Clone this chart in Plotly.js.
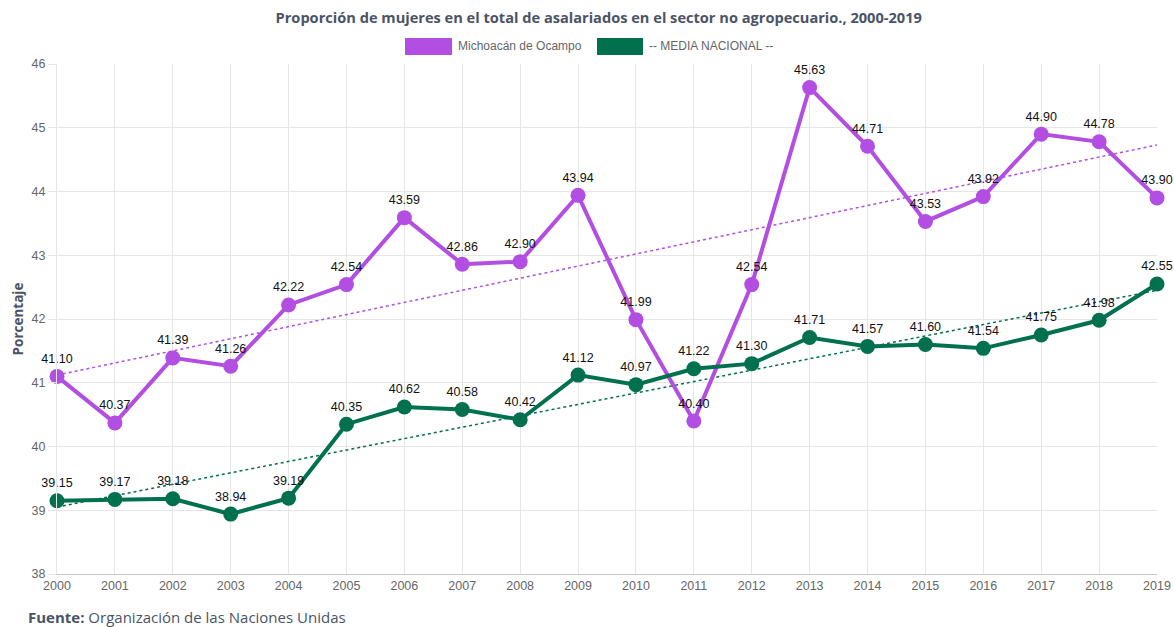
<!DOCTYPE html>
<html>
<head>
<meta charset="utf-8">
<script src="https://cdn.plot.ly/plotly-3.0.1.min.js"></script>
<style>html,body{margin:0;padding:0;background:#fff;}#chart{width:1174px;height:627px;}</style>
</head>
<body>
<div id="chart"></div>
<script>
const years = [2000,2001,2002,2003,2004,2005,2006,2007,2008,2009,2010,2011,2012,2013,2014,2015,2016,2017,2018,2019];
const michoacan = [41.10,40.37,41.39,41.26,42.22,42.54,43.59,42.86,42.90,43.94,41.99,40.40,42.54,45.63,44.71,43.53,43.92,44.90,44.78,43.90];
const nacional = [39.15,39.17,39.18,38.94,39.19,40.35,40.62,40.58,40.42,41.12,40.97,41.22,41.30,41.71,41.57,41.60,41.54,41.75,41.98,42.55];
const trendYears = [2000, 2019];
const michoacanTrend = [41.12, 44.73];
const nacionalTrend = [39.05, 42.45];
const names = ['Michoacán de Ocampo', '-- MEDIA NACIONAL --'];
const purple = '#b24fe2';
const green = '#00704f';
const labelFont = {family: 'Liberation Sans, Arial', size: 12.5, color: '#111'};

const data = [
  {x: trendYears, y: michoacanTrend, mode: 'lines', line: {color: purple, width: 1.5, dash: 'dot'}, hoverinfo: 'skip', showlegend: false},
  {x: trendYears, y: nacionalTrend, mode: 'lines', line: {color: green, width: 1.5, dash: 'dot'}, hoverinfo: 'skip', showlegend: false},
  {x: years, y: michoacan, name: names[0], mode: 'lines+markers+text', text: michoacan.map(v => v.toFixed(2)),
   textposition: 'top center', textfont: labelFont,
   line: {color: purple, width: 4}, marker: {color: purple, size: 15}, cliponaxis: false, showlegend: false},
  {x: years, y: nacional, name: names[1], mode: 'lines+markers+text', text: nacional.map(v => v.toFixed(2)),
   textposition: 'top center', textfont: labelFont,
   line: {color: green, width: 4}, marker: {color: green, size: 15}, cliponaxis: false, showlegend: false}
];

const layout = {
  width: 1174, height: 627,
  margin: {l: 57, r: 17, t: 64, b: 53},
  paper_bgcolor: '#fff', plot_bgcolor: '#fff',
  title: {text: 'Proporción de mujeres en el total de asalariados en el sector no agropecuario., 2000-2019',
    font: {family: 'Open Sans, Noto Sans, sans-serif', size: 14.6, color: '#4a5466', weight: 700},
    x: 0.51, xanchor: 'center', y: 0.972, yanchor: 'middle'},
  xaxis: {range: [2000, 2019], tickvals: years, ticktext: years.map(String), showgrid: true, gridcolor: '#e6e6e6',
    showline: true, linecolor: '#c8c8c8', zeroline: false, ticks: '', ticklen: 0,
    tickfont: {family: 'Liberation Sans, Arial', size: 12.5, color: '#666'}, fixedrange: true},
  yaxis: {range: [38, 46], dtick: 1, showgrid: true, gridcolor: '#e6e6e6', zeroline: false,
    showline: true, linecolor: '#e6e6e6', ticks: 'outside', ticklen: 8, tickcolor: '#e6e6e6',
    tickfont: {family: 'Liberation Sans, Arial', size: 12.5, color: '#666'},
    title: {text: 'Porcentaje', font: {family: 'Open Sans, Noto Sans, sans-serif', size: 13.5, color: '#4a5466', weight: 700}, standoff: 4}},
  showlegend: false,
  shapes: [
    {type: 'rect', xref: 'paper', yref: 'paper', x0: (405-57)/1100, x1: (452-57)/1100, y0: (574-55)/510, y1: (574-38)/510, fillcolor: purple, line: {width: 0}},
    {type: 'rect', xref: 'paper', yref: 'paper', x0: (597-57)/1100, x1: (643-57)/1100, y0: (574-55)/510, y1: (574-38)/510, fillcolor: green, line: {width: 0}}
  ],
  annotations: [
    {xref: 'paper', yref: 'paper', x: (456-57)/1100, y: (574-46.5)/510, xanchor: 'left', yanchor: 'middle', showarrow: false,
     text: names[0], font: {family: 'Liberation Sans, Arial', size: 12, color: '#666'}},
    {xref: 'paper', yref: 'paper', x: (647-57)/1100, y: (574-46.5)/510, xanchor: 'left', yanchor: 'middle', showarrow: false,
     text: names[1], font: {family: 'Liberation Sans, Arial', size: 12, color: '#666'}},
    {xref: 'paper', yref: 'paper', x: (26-57)/1100, y: (574-617)/510, xanchor: 'left', yanchor: 'middle', showarrow: false,
     text: '<b>Fuente:</b> Organización de las Naciones Unidas', font: {family: 'Open Sans, Noto Sans, sans-serif', size: 15, color: '#4a5466'}}
  ]
};

Plotly.newPlot('chart', data, layout, {displayModeBar: false, staticPlot: true});
</script>
</body>
</html>
